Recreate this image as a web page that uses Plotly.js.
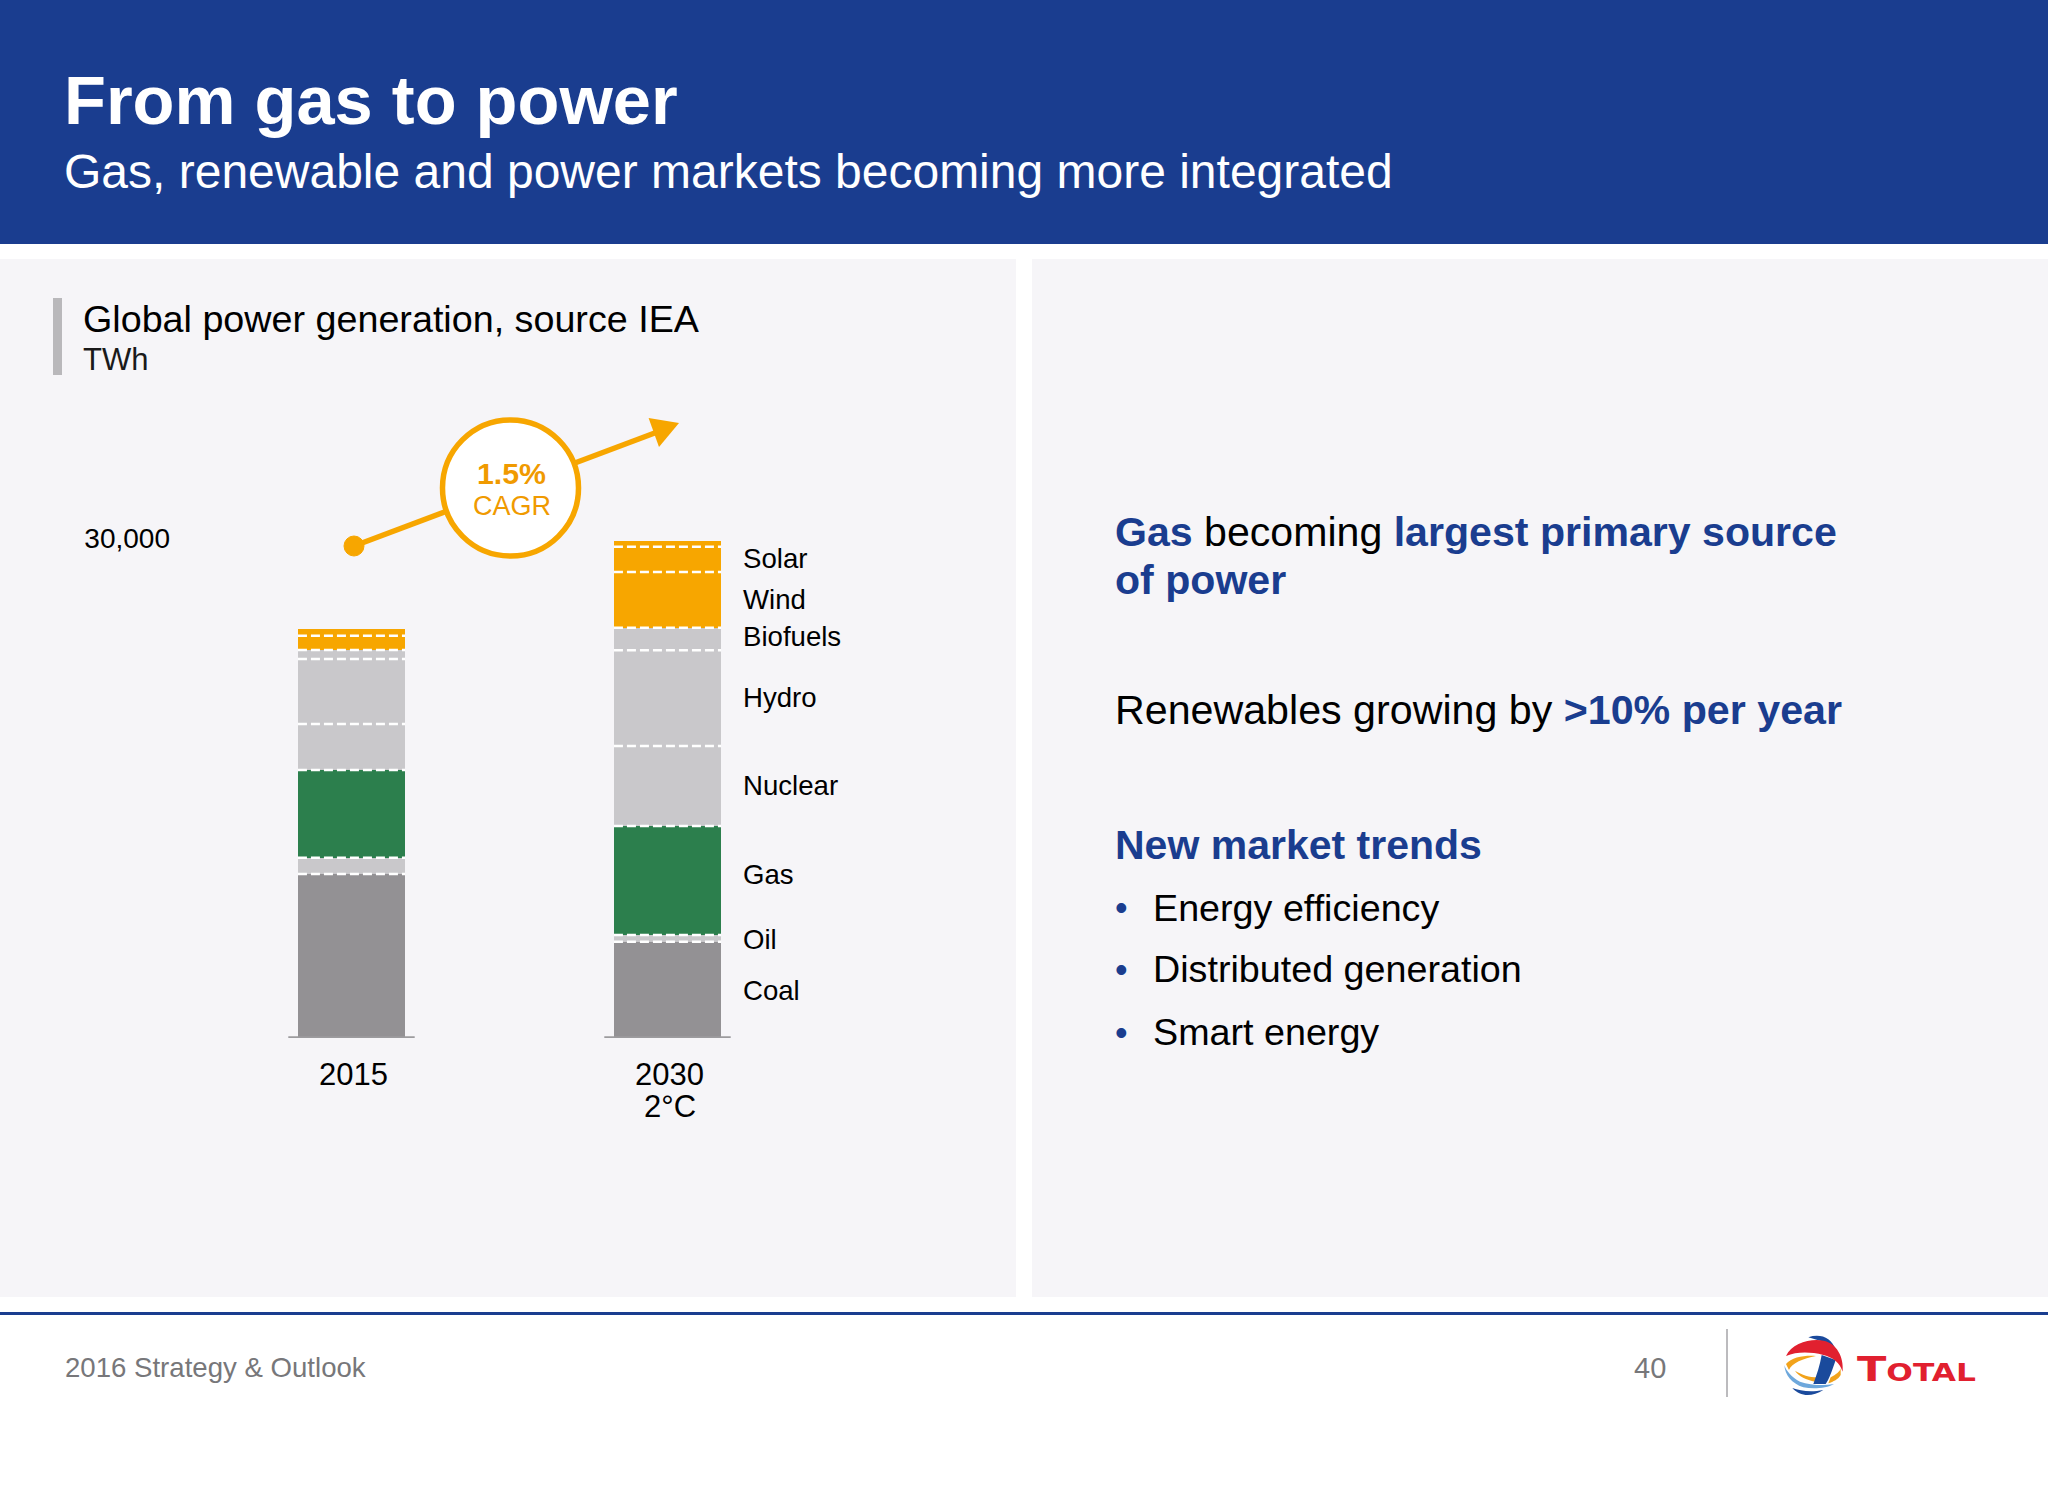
<!DOCTYPE html>
<html><head><meta charset="utf-8">
<script src="https://cdn.plot.ly/plotly-3.0.1.min.js"></script>
<style>html,body{margin:0;padding:0;background:#fff}#c{width:2048px;height:1492px}</style>
</head><body><div id="c"></div>
<script>
// ---- data (TWh)
const years = ["2015", "2030"];
const seriesNames = ["Coal", "Oil", "Gas", "Nuclear", "Hydro", "Biofuels", "Wind", "Solar", ""];
const coal = [9840, 5780];
const oil = [980, 400];
const gas = [5260, 6540];
const nuclear = [2760, 4800];
const hydro = [3900, 5740];
const biofuels = [540, 1360];
const wind = [860, 3340];
const solar = [420, 1520];
const other = [0, 340];
const seriesValues = [coal, oil, gas, nuclear, hydro, biofuels, wind, solar, other];
const seriesColors = ["#939194", "#c9c8cb", "#2c7f4d", "#c9c8cb", "#c9c8cb", "#c9c8cb", "#f7a600", "#f7a600", "#f7a600"];
const yTickValues = [30000];
const yTickLabels = ["30,000"];

// ---- page geometry
const W = 2048, H = 1492;
const X = v => v / W, Y = v => 1 - v / H;
const BLUE = "#1a3d8f", ORANGE = "#f7a600", FONT = "Liberation Sans, Arial, sans-serif";
const pos = years.map((_, i) => i);
const barWidth = 0.339;

const stackTop = pos.map(i => seriesValues.reduce((s, a) => s + a[i], 0));

const traces = seriesValues.map((vals, k) => ({
  type: "bar", x: pos, y: vals, width: barWidth, name: seriesNames[k],
  marker: {color: seriesColors[k], line: {width: 0}}, hoverinfo: "skip", showlegend: false
}));

// dashed separators, computed from the stacked values
const sepX = [], sepY = [];
pos.forEach(i => {
  let cum = 0;
  seriesValues.forEach(vals => {
    cum += vals[i];
    if (vals[i] > 0 && cum < stackTop[i]) {
      sepX.push(i - barWidth / 2, i + barWidth / 2, null);
      sepY.push(cum, cum, null);
    }
  });
});
traces.push({type: "scatter", mode: "lines", x: sepX, y: sepY, hoverinfo: "skip", showlegend: false,
  line: {color: "#ffffff", width: 2.5, dash: "9px,4px"}});

// baseline under each bar
const baseX = [], baseY = [];
pos.forEach(i => { baseX.push(i - 0.2, i + 0.2, null); baseY.push(0, 0, null); });
traces.push({type: "scatter", mode: "lines", x: baseX, y: baseY, hoverinfo: "skip", showlegend: false,
  cliponaxis: false, line: {color: "#9c9b9e", width: 3.5}});

// ---- annotations
const ann = [];
function txt(x, y, text, size, color, opt) {
  ann.push(Object.assign({xref: "paper", yref: "paper", x: X(x), y: Y(y), text, showarrow: false,
    xanchor: "left", yanchor: "middle", align: "left", borderpad: 0,
    font: {family: FONT, size, color}}, opt || {}));
}
const blue = s => `<span style="color:${BLUE}"><b>${s}</b></span>`;
txt(63, 100, "<b>From gas to power</b>", 68.6, "#ffffff");
txt(63, 171, "Gas, renewable and power markets becoming more integrated", 48, "#ffffff");
txt(82, 319, "Global power generation, source IEA", 37.7, "#000000");
txt(82, 359, "TWh", 31, "#1a1a1a");
txt(1114, 532, blue("Gas") + " becoming " + blue("largest primary source"), 41.1, "#000000");
txt(1114, 580, blue("of power"), 41.1, "#000000");
txt(1114, 710, "Renewables growing by " + blue(">10% per year"), 41.2, "#000000");
txt(1114, 845, blue("New market trends"), 41, "#000000");
[["Energy efficiency", 908], ["Distributed generation", 969.5], ["Smart energy", 1032]].forEach(([t, y]) => {
  txt(1114, y, "•", 36, BLUE);
  txt(1152, y, t, 37.7, "#000000");
});
txt(64, 1367, "2016 Strategy &amp; Outlook", 27.6, "#77777a");
txt(1650, 1368, "40", 29, "#77777a", {xanchor: "center"});
txt(511.5, 473, "<b>1.5%</b>", 30.3, "#f09a00", {xanchor: "center"});
txt(511.5, 506, "CAGR", 27, "#f09a00", {xanchor: "center"});
txt(670, 1106, "2°C", 31, "#000000", {xanchor: "center"});
txt(1856, 1369, `<b><span style="font-size:33px">T</span><span style="font-size:24px">OTAL</span></b>`, 24, "#e1202f",
  {font: {family: "DejaVu Sans", size: 24, color: "#e1202f"}});

// series labels next to the 2030 bar, placed at the segment midpoints
const labelShift = {Gas: 6, Biofuels: 3, Oil: -1, Coal: -1, Solar: 1, Wind: 0, Hydro: 1, Nuclear: 1};
(function () {
  let cum = 0;
  seriesValues.forEach((vals, k) => {
    const mid = cum + vals[1] / 2; cum += vals[1];
    if (!seriesNames[k]) return;
    ann.push({xref: "x", yref: "y", x: 1 + barWidth / 2, y: mid, text: seriesNames[k], showarrow: false,
      xanchor: "left", yanchor: "middle", xshift: 19.5, yshift: labelShift[seriesNames[k]] || 0,
      font: {family: FONT, size: 27.6, color: "#000000"}});
  });
})();

// ---- shapes (page furniture and CAGR call-out)
function rect(x0, y0, x1, y1, color, layer) {
  return {type: "rect", xref: "paper", yref: "paper", x0: X(x0), x1: X(x1), y0: Y(y1), y1: Y(y0),
    fillcolor: color, line: {width: 0}, layer: layer || "below"};
}
function lineS(x0, y0, x1, y1, color, width) {
  return {type: "line", xref: "paper", yref: "paper", x0: X(x0), x1: X(x1), y0: Y(y0), y1: Y(y1),
    line: {color, width}, layer: "above"};
}
function circ(cx, cy, r, fill, stroke, sw) {
  return {type: "circle", xref: "paper", yref: "paper", x0: X(cx - r), x1: X(cx + r), y0: Y(cy + r), y1: Y(cy - r),
    fillcolor: fill, line: {color: stroke, width: sw}, layer: "above"};
}
function poly(str, fill, ox, oy, k) {
  // converts "M x y C ..." written in px (optionally scaled) to paper coordinates
  const toks = str.trim().split(/\s+/); let out = [], isX = true;
  toks.forEach(t => {
    if (/^[A-Za-z]$/.test(t)) { out.push(t); isX = true; return; }
    const n = parseFloat(t);
    if (isX) out.push(X(ox + n / k)); else out[out.length - 1] += "," + Y(oy + n / k);
    isX = !isX;
  });
  return {type: "path", xref: "paper", yref: "paper", path: out.join(" "), fillcolor: fill, line: {width: 0}, layer: "above"};
}
const L = (s, c) => poly(s, c, 1660, 1300, 3);
const shapes = [
  rect(0, 0, W, 244, BLUE),
  rect(0, 259, 1016, 1297, "#f6f5f8"),
  rect(1032, 259, W, 1297, "#f6f5f8"),
  rect(53, 298, 62, 375, "#b9b8bb"),
  rect(0, 1312, W, 1315, BLUE),
  rect(1726, 1329, 1728, 1397, "#bcbbbe"),
  lineS(354, 546, 660, 431, ORANGE, 5.5),
  circ(354, 546, 10, ORANGE, ORANGE, 1),
  poly("M 648.6 418 L 679 423 L 659 447 Z", ORANGE, 0, 0, 1),
  circ(510.5, 488, 68, "#ffffff", ORANGE, 5.5),
  L("M 445 112 C 480 100 515 112 527 150 L 490 125 Z", "#1a4a9c"),
  L("M 397 264 C 420 290 455 292 490 270 C 450 278 420 272 397 264 Z", "#1a4a9c"),
  L("M 373 195 C 375 225 395 250 430 262 C 460 268 500 265 522 252 C 490 258 450 255 420 245 C 395 232 378 212 373 195 Z", "#6ea8dc"),
  L("M 378 192 C 395 170 440 165 468 168 C 430 175 395 190 387 210 Z", "#f2a31b"),
  L("M 405 212 C 425 225 450 232 470 232 L 465 245 C 440 240 415 228 405 212 Z", "#f2a31b"),
  L("M 512 232 C 528 224 540 215 542 205 L 542 225 C 535 238 520 245 505 250 Z", "#f2a31b"),
  L("M 485 165 L 527 180 C 517 210 507 238 497 252 L 460 252 C 470 225 480 195 485 165 Z", "#1a4a9c"),
  L("M 378 168 C 395 130 450 115 490 122 C 530 130 552 170 548 215 C 540 190 520 172 490 165 C 450 155 410 155 378 168 Z", "#e1202f"),
];

// ---- axes: x = 351.5px + 316px per bar, y = 60 TWh per px
const pxLeft = 178, pxRight = 900, pxBottom = 1038, pxTop = 400;
const layout = {
  width: W, height: H, margin: {l: 0, r: 0, t: 0, b: 0, pad: 0},
  paper_bgcolor: "#ffffff", plot_bgcolor: "rgba(0,0,0,0)",
  barmode: "stack", showlegend: false, hovermode: false,
  font: {family: FONT},
  xaxis: {domain: [X(pxLeft), X(pxRight)], range: [(pxLeft - 351.5) / 316, (pxRight - 351.5) / 316],
    tickmode: "array", tickvals: pos, ticktext: years, ticks: "", showgrid: false, zeroline: false, showline: false,
    tickfont: {family: FONT, size: 31, color: "#000000"}, fixedrange: true, ticklabelstandoff: 15, ticklabelshift: 2},
  yaxis: {domain: [Y(pxBottom), Y(pxTop)], range: [0, (pxBottom - pxTop) * 60],
    tickmode: "array", tickvals: yTickValues, ticktext: yTickLabels, ticks: "", showgrid: false, zeroline: false, showline: false,
    tickfont: {family: FONT, size: 28, color: "#000000"}, fixedrange: true, ticklabelstandoff: 7},
  annotations: ann, shapes
};
Plotly.newPlot("c", traces, layout, {displayModeBar: false, staticPlot: true}).then(() => {
  // the wordmark in the logo is extended: stretch its text horizontally to the logo's width
  document.querySelectorAll("text.annotation-text").forEach(t => {
    if (t.textContent === "TOTAL") {
      const b = t.getBBox();
      const s = 119 / b.width;
      t.setAttribute("transform", `translate(${b.x},0) scale(${s},1) translate(${-b.x},0)`);
    }
  });
});
</script></body></html>
